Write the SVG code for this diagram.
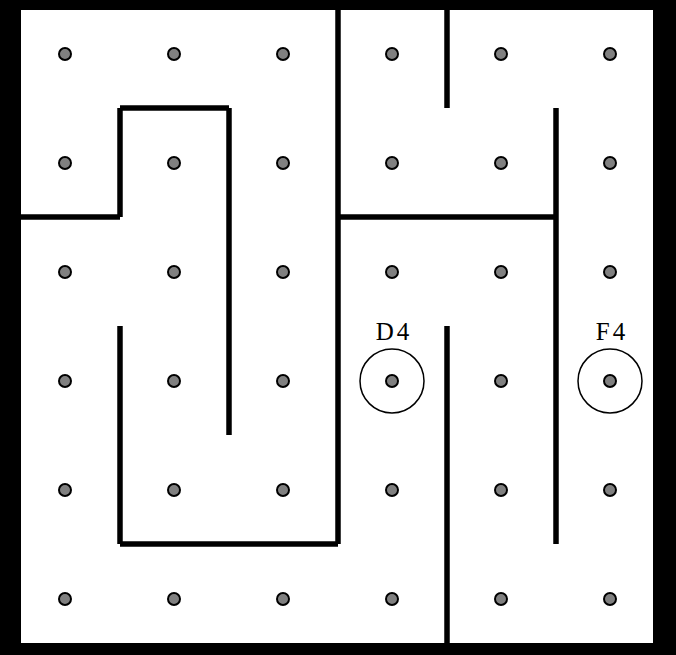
<svg xmlns="http://www.w3.org/2000/svg" width="676" height="655" viewBox="0 0 676 655">
<style>
.wall{stroke:#000;stroke-width:5.5;stroke-linecap:butt;fill:none}
.dot{fill:#808080;stroke:#000;stroke-width:2}
.ring{fill:none;stroke:#000;stroke-width:1.5}
.lbl{font-family:"Liberation Serif",serif;font-size:25px;fill:#000;text-anchor:middle;letter-spacing:3px}
</style>
<rect x="0" y="0" width="676" height="655" fill="#000"/>
<rect x="21" y="10" width="632" height="633" fill="#fff"/>
<g id="walls">
<line class="wall" x1="338" y1="10" x2="338" y2="544"/>
<line class="wall" x1="447" y1="10" x2="447" y2="108"/>
<line class="wall" x1="120" y1="108" x2="120" y2="217"/>
<line class="wall" x1="120" y1="108" x2="229" y2="108"/>
<line class="wall" x1="229" y1="108" x2="229" y2="435"/>
<line class="wall" x1="21" y1="217" x2="120" y2="217"/>
<line class="wall" x1="556" y1="108" x2="556" y2="544"/>
<line class="wall" x1="338" y1="217" x2="556" y2="217"/>
<line class="wall" x1="447" y1="326" x2="447" y2="643"/>
<line class="wall" x1="120" y1="326" x2="120" y2="544"/>
<line class="wall" x1="120" y1="544" x2="338" y2="544"/>
</g>
<g id="dots">
<circle class="dot" cx="65" cy="54" r="6"/><circle class="dot" cx="174" cy="54" r="6"/><circle class="dot" cx="283" cy="54" r="6"/><circle class="dot" cx="392" cy="54" r="6"/><circle class="dot" cx="501" cy="54" r="6"/><circle class="dot" cx="610" cy="54" r="6"/>
<circle class="dot" cx="65" cy="163" r="6"/><circle class="dot" cx="174" cy="163" r="6"/><circle class="dot" cx="283" cy="163" r="6"/><circle class="dot" cx="392" cy="163" r="6"/><circle class="dot" cx="501" cy="163" r="6"/><circle class="dot" cx="610" cy="163" r="6"/>
<circle class="dot" cx="65" cy="272" r="6"/><circle class="dot" cx="174" cy="272" r="6"/><circle class="dot" cx="283" cy="272" r="6"/><circle class="dot" cx="392" cy="272" r="6"/><circle class="dot" cx="501" cy="272" r="6"/><circle class="dot" cx="610" cy="272" r="6"/>
<circle class="dot" cx="65" cy="381" r="6"/><circle class="dot" cx="174" cy="381" r="6"/><circle class="dot" cx="283" cy="381" r="6"/><circle class="dot" cx="501" cy="381" r="6"/>
<circle class="dot" cx="65" cy="490" r="6"/><circle class="dot" cx="174" cy="490" r="6"/><circle class="dot" cx="283" cy="490" r="6"/><circle class="dot" cx="392" cy="490" r="6"/><circle class="dot" cx="501" cy="490" r="6"/><circle class="dot" cx="610" cy="490" r="6"/>
<circle class="dot" cx="65" cy="599" r="6"/><circle class="dot" cx="174" cy="599" r="6"/><circle class="dot" cx="283" cy="599" r="6"/><circle class="dot" cx="392" cy="599" r="6"/><circle class="dot" cx="501" cy="599" r="6"/><circle class="dot" cx="610" cy="599" r="6"/>
</g>
<g id="D4">
<circle class="ring" cx="392" cy="381" r="32"/>
<circle class="dot" cx="392" cy="381" r="6"/>
<text class="lbl" x="394" y="340">D4</text>
</g>
<g id="F4">
<circle class="ring" cx="610" cy="381" r="32"/>
<circle class="dot" cx="610" cy="381" r="6"/>
<text class="lbl" x="612" y="340">F4</text>
</g>
</svg>
